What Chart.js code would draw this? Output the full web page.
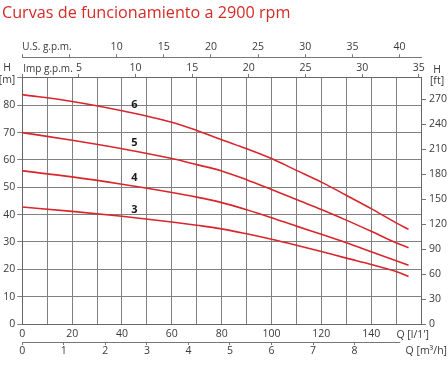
<!DOCTYPE html>
<html>
<head>
<meta charset="utf-8">
<script src="https://cdn.jsdelivr.net/npm/chart.js@4.4.1/dist/chart.umd.min.js"></script>
<style>
  html, body { margin: 0; padding: 0; background: #fff; }
  canvas { display: block; }
</style>
</head>
<body>
<canvas id="curves" width="448" height="372"></canvas>
<script>
// flow in l/min, head in m
const flowQ = [0, 20, 40, 60, 70, 80, 90, 100, 110, 120, 130, 140, 150, 155];
const head3 = [42.8, 41.2, 39.4, 37.3, 36.1, 34.8, 33.0, 31.0, 28.8, 26.5, 24.1, 21.8, 19.2, 17.4];
const head4 = [56.0, 53.8, 51.1, 48.1, 46.4, 44.4, 41.8, 38.9, 35.8, 32.8, 29.7, 26.4, 23.1, 21.5];
const head5 = [70.0, 67.2, 64.1, 60.5, 58.3, 56.0, 52.8, 49.2, 45.5, 41.9, 38.0, 33.9, 29.7, 27.9];
const head6 = [83.9, 81.4, 78.0, 73.8, 70.8, 67.4, 64.1, 60.5, 56.2, 51.9, 47.1, 42.2, 37.0, 34.6];

const curveNames = ["3", "4", "5", "6"];
const nameFlow = 45;
const nameHead = [41.6, 53.5, 66.3, 80.2];

const flowMax = 160;   // l/min
const headMax = 90;    // m

const red = "#d9262c";
const gridColor = "#808080";
const textColor = "#3a3a3a";
const tickFont = { family: "Open Sans", size: 10.5 };

function toPoints(heads) {
    return flowQ.map((q, i) => ({ x: q, y: heads[i] }));
}

const labelsPlugin = {
    id: "extraLabels",
    afterDraw(chart) {
        const ctx = chart.ctx;
        const sx = chart.scales.x, sy = chart.scales.y;
        const m3 = chart.scales.m3h, us = chart.scales.us, imp = chart.scales.imp;
        ctx.save();

        // short axis line for m3/h
        ctx.strokeStyle = "#777";
        ctx.lineWidth = 1;
        ctx.beginPath();
        ctx.moveTo(m3.getPixelForValue(0), 342.5);
        ctx.lineTo(m3.getPixelForValue(9.1), 342.5);
        ctx.stroke();

        ctx.fillStyle = textColor;
        ctx.font = "10px 'Open Sans'";
        ctx.textBaseline = "middle";
        ctx.textAlign = "left";
        ctx.fillText("U.S. g.p.m.", us.left, 47.5);
        ctx.fillText("Imp g.p.m.", imp.left + 1, 69.5);

        ctx.font = "10.5px 'Open Sans'";
        ctx.textAlign = "center";
        ctx.fillText("H", 7, 68.5);
        ctx.fillText("[m]", 7, 80);
        ctx.fillText("H", 437, 70);
        ctx.fillText("[ft]", 437, 81);

        ctx.textAlign = "right";
        ctx.fillText("Q [l/1']", 429, 335);
        ctx.fillText("Q [m³/h]", 447, 351.5);

        // stage numbers on the curves
        ctx.fillStyle = "#1a1a1a";
        ctx.font = "bold 11px 'Open Sans'";
        ctx.textAlign = "center";
        curveNames.forEach((n, i) => {
            ctx.fillText(n, sx.getPixelForValue(nameFlow), sy.getPixelForValue(nameHead[i]));
        });
        ctx.restore();
    }
};

const mkSet = (heads) => ({
    data: toPoints(heads),
    borderColor: red,
    borderWidth: 1.6,
    pointRadius: 0,
    fill: false,
    cubicInterpolationMode: "monotone",
    xAxisID: "x",
    yAxisID: "y"
});

new Chart(document.getElementById("curves"), {
    type: "line",
    data: { datasets: [mkSet(head3), mkSet(head4), mkSet(head5), mkSet(head6)] },
    options: {
        responsive: false,
        animation: false,
        devicePixelRatio: 1,
        layout: { padding: { left: 2, right: 0, top: 0, bottom: 0 } },
        plugins: {
            legend: { display: false },
            tooltip: { enabled: false },
            title: {
                display: true,
                text: "Curvas de funcionamiento a 2900 rpm",
                align: "start",
                color: "#d42b27",
                font: { family: "Open Sans", size: 16.2, weight: "normal" },
                padding: { top: 4, bottom: 12.5 }
            }
        },
        scales: {
            x: {
                type: "linear", position: "bottom", weight: 0,
                min: 0, max: flowMax,
                afterFit: s => { s.height = 18; },
                grid: { color: gridColor, drawTicks: false },
                border: { color: "#666" },
                ticks: {
                    stepSize: 10, autoSkip: false, maxRotation: 0, padding: 4,
                    font: tickFont, color: textColor,
                    callback: v => (v % 20 === 0 && v < flowMax) ? v : ""
                }
            },
            m3h: {
                type: "linear", position: "bottom", weight: 1,
                min: 0, max: flowMax * 0.06,
                afterFit: s => { s.height = 30; },
                grid: {
                    drawOnChartArea: false, tickLength: 3,
                    color: c => (c.tick && c.tick.value <= 8) ? "#777" : "rgba(0,0,0,0)"
                },
                border: { display: false },
                ticks: {
                    stepSize: 1, autoSkip: false, maxRotation: 0, padding: 0, includeBounds: false,
                    font: tickFont, color: textColor,
                    callback: v => (Number.isInteger(v) && v <= 8) ? v : ""
                }
            },
            y: {
                type: "linear", position: "left",
                min: 0, max: headMax,
                afterFit: s => { s.width = 20.3; },
                grid: { color: gridColor, tickLength: 5 },
                border: { color: "#666" },
                ticks: {
                    stepSize: 10, padding: 2, font: tickFont, color: textColor,
                    callback: v => v < headMax ? v : ""
                }
            },
            yft: {
                type: "linear", position: "right",
                min: 0, max: headMax / 0.3048,
                afterFit: s => { s.width = 27; },
                grid: { drawOnChartArea: false, tickLength: 5, color: "#777" },
                border: { color: "#666" },
                ticks: {
                    stepSize: 30, padding: 3, includeBounds: false,
                    font: tickFont, color: textColor,
                    callback: v => v <= 270 ? v : ""
                }
            },
            us: {
                type: "linear", position: "top", weight: 1,
                min: 0, max: flowMax / 3.78541,
                afterFit: s => { s.height = 21.3; },
                grid: { drawOnChartArea: false, tickLength: 3, color: "#777" },
                border: { color: "#777" },
                ticks: {
                    stepSize: 5, autoSkip: false, maxRotation: 0, padding: 1, includeBounds: false,
                    font: tickFont, color: textColor,
                    callback: v => (v >= 10 && v <= 40) ? v : ""
                }
            },
            imp: {
                type: "linear", position: "top", weight: 0,
                min: 0, max: flowMax / 4.54609,
                afterFit: s => { s.height = 20.7; },
                grid: { drawOnChartArea: false, tickLength: 4, color: "#777" },
                border: { color: "#666" },
                ticks: {
                    stepSize: 5, autoSkip: false, maxRotation: 0, padding: 0, includeBounds: false,
                    font: tickFont, color: textColor,
                    callback: v => (v >= 5 && v <= 35) ? v : ""
                }
            }
        }
    },
    plugins: [labelsPlugin]
});
</script>
</body>
</html>
